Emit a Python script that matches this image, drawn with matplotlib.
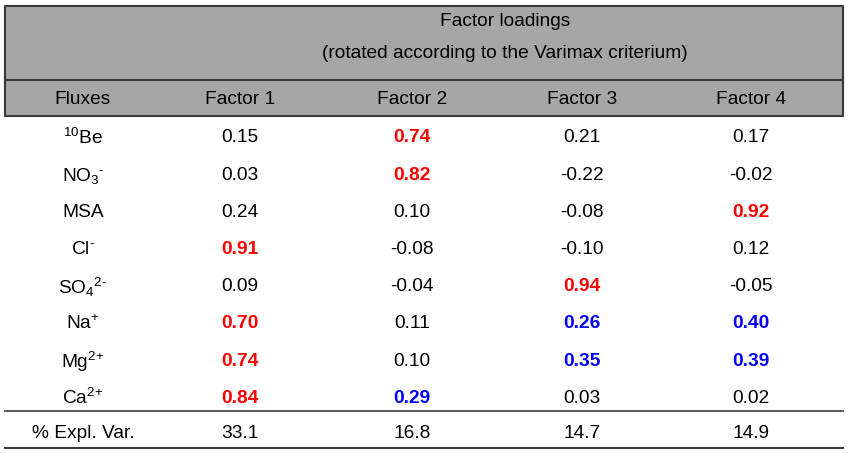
import matplotlib.pyplot as plt
from matplotlib.patches import Rectangle

plt.rcParams['font.family'] = ['Liberation Sans', 'DejaVu Sans']
plt.rcParams['mathtext.fontset'] = 'custom'
plt.rcParams['mathtext.rm'] = 'Liberation Sans'
plt.rcParams['mathtext.it'] = 'Liberation Sans'
plt.rcParams['mathtext.bf'] = 'Liberation Sans:bold'

TITLE = "Factor loadings"
SUBTITLE = "(rotated according to the Varimax criterium)"
COLUMNS = ["Fluxes", "Factor 1", "Factor 2", "Factor 3", "Factor 4"]
FLUXES = [r"$\mathregular{^{\text{10}}Be}$", r"$\mathregular{NO_3{}^{\text{-}}}$", "MSA",
          r"$\mathregular{Cl^{\text{-}}}$", r"$\mathregular{SO_4{}^{\text{2-}}}$",
          r"$\mathregular{Na^{\text{+}}}$", r"$\mathregular{Mg^{\text{2+}}}$",
          r"$\mathregular{Ca^{\text{2+}}}$"]
factor1 = [0.15, 0.03, 0.24, 0.91, 0.09, 0.70, 0.74, 0.84]
factor2 = [0.74, 0.82, 0.10, -0.08, -0.04, 0.11, 0.10, 0.29]
factor3 = [0.21, -0.22, -0.08, -0.10, 0.94, 0.26, 0.35, 0.03]
factor4 = [0.17, -0.02, 0.92, 0.12, -0.05, 0.40, 0.39, 0.02]
# r = strong loading (red), b = secondary loading (blue)
mark1 = ['', '', '', 'r', '', 'r', 'r', 'r']
mark2 = ['r', 'r', '', '', '', '', '', 'b']
mark3 = ['', '', '', '', 'r', 'b', 'b', '']
mark4 = ['', '', 'r', '', '', 'b', 'b', '']
EXPL_LABEL = "% Expl. Var."
expl_var = [33.1, 16.8, 14.7, 14.9]

COLORS = {'': 'black', 'r': '#ff0000', 'b': '#0000ff'}


def main():
    fig = plt.figure(figsize=(8.5, 4.53), dpi=100)
    ax = fig.add_axes([0, 0, 1, 1])
    ax.set_xlim(0, 850)
    ax.set_ylim(453, 0)
    ax.axis('off')

    left, right = 5, 843
    col_x = [83, 240, 412, 582, 751]
    row_y0, row_dy = 136, 37.2
    fs = 13.8

    # header box
    ax.add_patch(Rectangle((left, 6), right - left, 110, facecolor='#a6a6a6',
                           edgecolor='#3a3a3a', lw=1.5))
    ax.plot([left, right], [80, 80], color='#3a3a3a', lw=1.5)
    ax.text(505, 21, TITLE, ha='center', va='center', fontsize=fs)
    ax.text(505, 54, SUBTITLE, ha='center', va='center', fontsize=fs)
    for x, name in zip(col_x, COLUMNS):
        ax.text(x, 99, name, ha='center', va='center', fontsize=fs)

    factors = [factor1, factor2, factor3, factor4]
    marks = [mark1, mark2, mark3, mark4]
    for i, flux in enumerate(FLUXES):
        y = row_y0 + i * row_dy
        ax.text(col_x[0], y, flux, ha='center', va='center_baseline', fontsize=fs)
        for j in range(4):
            m = marks[j][i]
            ax.text(col_x[j + 1], y, "{:.2f}".format(factors[j][i]),
                    ha='center', va='center_baseline', fontsize=fs,
                    color=COLORS[m], fontweight='bold' if m else 'normal')

    ax.plot([left, right], [411, 411], color='#3a3a3a', lw=1.2)
    ax.plot([left, right], [448, 448], color='#3a3a3a', lw=1.5)
    y = 431
    ax.text(col_x[0], y, EXPL_LABEL, ha='center', va='center_baseline', fontsize=fs)
    for j, v in enumerate(expl_var):
        ax.text(col_x[j + 1], y, "{:.1f}".format(v), ha='center', va='center_baseline', fontsize=fs)

    fig.savefig('out.png', dpi=100)


if __name__ == "__main__":
    main()
